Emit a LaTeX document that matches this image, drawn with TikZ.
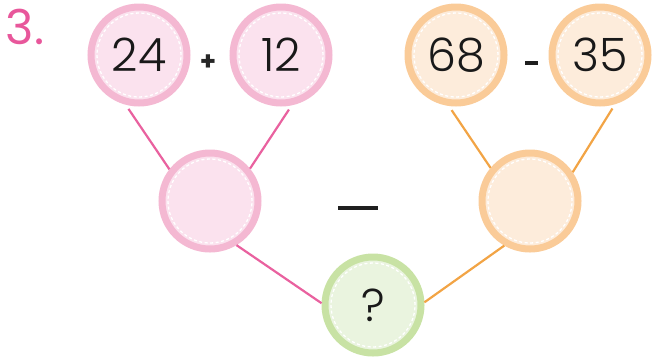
\documentclass[tikz,border=0pt]{standalone}
\usepackage{fontspec}
\setmainfont{Poppins}
\newfontfamily\numfont{Poppins Light}
\definecolor{pinkring}{HTML}{F4B8D2}
\definecolor{pinkfill}{HTML}{FBE2EE}
\definecolor{pinkline}{HTML}{E9619F}
\definecolor{orring}{HTML}{FACB98}
\definecolor{orfill}{HTML}{FDECDB}
\definecolor{orline}{HTML}{F2A445}
\definecolor{grring}{HTML}{C8E2A4}
\definecolor{grfill}{HTML}{EAF4DF}
\definecolor{numpink}{HTML}{E8579B}
\tikzset{
  ball/.style={circle, minimum size=96pt, inner sep=0pt, line width=7pt,
    font=\numfont\fontsize{46}{46}\selectfont, text=black!90,
    path picture={\draw[white, line width=1.3pt, dash pattern=on 3pt off 2.5pt]
      (path picture bounding box.center) circle (42pt);}},
  pinkball/.style={ball, draw=pinkring, fill=pinkfill},
  orball/.style={ball, draw=orring, fill=orfill},
  grball/.style={ball, draw=grring, fill=grfill},
  pinkconn/.style={draw=pinkline, line width=2.2pt},
  orconn/.style={draw=orline, line width=2.2pt},
  opsign/.style={font=\fontsize{26}{26}\selectfont\bfseries, text=black!85},
  bar/.style={inner sep=0pt, fill=black!88}
}
\begin{document}
\begin{tikzpicture}[x=1pt, y=-1pt]
\useasboundingbox (0,0) rectangle (652,360);
\node[text=numpink, font=\fontsize{48}{48}\selectfont, anchor=center] (lbl) at (25,27) {3.};
\node[pinkball] (a) at (139,55) {24};
\node[pinkball] (b) at (281,55) {12};
\node[orball] (c) at (456,55) {68};
\node[orball] (d) at (600,55) {35};
\node[pinkball] (m) at (210,201) {};
\node[orball] (n) at (530,201) {};
\node[grball] (q) at (373,305) {?};
\node[opsign] (plus) at (208,63) {+};
\node[bar, minimum width=13pt, minimum height=4.5pt] (minus) at (531,63) {};
\node[bar, minimum width=40pt, minimum height=4pt] (bigminus) at (358,208) {};
\draw[pinkconn, shorten <=5pt] (a.-105) -- (m.142);
\draw[pinkconn, shorten <=5pt] (b.-78) -- (m.39);
\draw[pinkconn] (m.-59) -- (q.178);
\draw[orconn, shorten <=5pt] (c.-98) -- (n.140);
\draw[orconn, shorten <=5pt] (d.-73) -- (n.34);
\draw[orconn] (n.-120) -- (q.3);
\end{tikzpicture}
\end{document}
